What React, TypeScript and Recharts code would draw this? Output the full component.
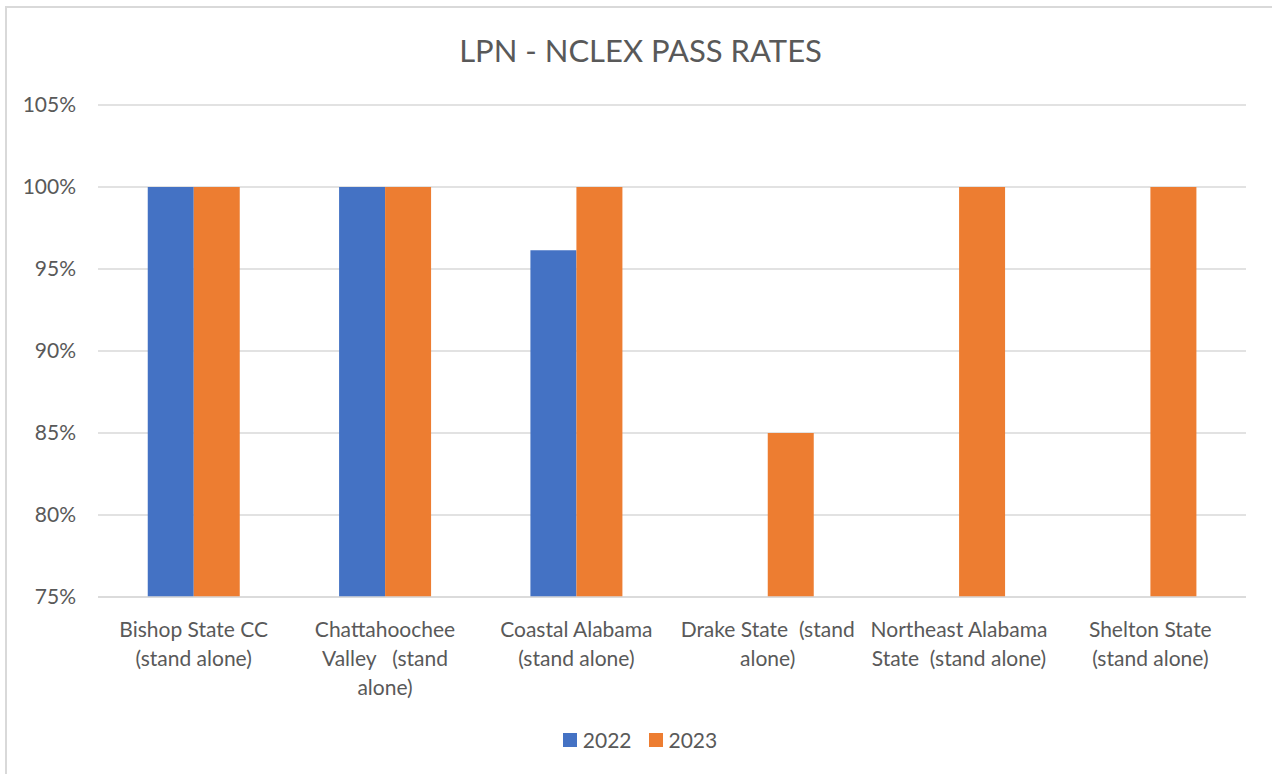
import React from "react";
import { BarChart, Bar, XAxis, YAxis, CartesianGrid, Legend } from "recharts";

// Programs shown along the category axis
const programs = [
  "Bishop State CC (stand alone)",
  "Chattahoochee Valley (stand alone)",
  "Coastal Alabama (stand alone)",
  "Drake State (stand alone)",
  "Northeast Alabama State (stand alone)",
  "Shelton State (stand alone)",
];

// Wrapped tick label lines for each program
const programLabelLines = [
  ["Bishop State CC", "(stand alone)"],
  ["Chattahoochee", "Valley   (stand", "alone)"],
  ["Coastal Alabama", "(stand alone)"],
  ["Drake State  (stand", "alone)"],
  ["Northeast Alabama", "State  (stand alone)"],
  ["Shelton State", "(stand alone)"],
];

// Pass rates (%) by year; null where no 2022 figure was reported
const passRate2022: (number | null)[] = [100, 100, 96.15, null, null, null];
const passRate2023: (number | null)[] = [100, 100, 100, 85, 100, 100];

const yTicks = [75, 80, 85, 90, 95, 100, 105];

const seriesNames = ["2022", "2023"];
const seriesColors = ["#4472C4", "#ED7D31"];

const data = programs.map((name, i) => ({
  name,
  y2022: passRate2022[i],
  y2023: passRate2023[i],
}));

const FONT = "Lato, 'Open Sans', sans-serif";
const TEXT = "#595959";
const GRID = "#D9D9D9";
const LABEL_SIZE = 21;

const ProgramTick = (props: any) => {
  const { x, y, payload } = props;
  const lines = programLabelLines[payload.index] || [String(payload.value)];
  return (
    <text
      x={x}
      y={y}
      textAnchor="middle"
      fill={TEXT}
      fontSize={LABEL_SIZE}
      fontFamily={FONT}
      style={{ whiteSpace: "pre" }}
    >
      {lines.map((line, i) => (
        <tspan key={i} x={x} y={y + 40 + i * 29}>
          {line}
        </tspan>
      ))}
    </text>
  );
};

const LegendContent = () => (
  <div
    style={{
      display: "flex",
      justifyContent: "center",
      alignItems: "center",
      fontFamily: FONT,
      fontSize: LABEL_SIZE,
      color: TEXT,
      paddingLeft: 8,
    }}
  >
    {seriesNames.map((n, i) => (
      <div
        key={n}
        style={{ display: "flex", alignItems: "center", marginRight: i === 0 ? 17 : 0 }}
      >
        <span
          style={{
            display: "inline-block",
            width: 14,
            height: 14,
            background: seriesColors[i],
            marginRight: 6,
          }}
        />
        <span>{n}</span>
      </div>
    ))}
  </div>
);

export default function App() {
  return (
    <div
      style={{
        position: "absolute",
        left: 0,
        top: 0,
        width: 1272,
        height: 774,
        overflow: "hidden",
        background: "#fff",
      }}
    >
      <div
        style={{
          position: "absolute",
          left: 5,
          top: 6,
          width: 1320,
          height: 820,
          border: `2px solid ${GRID}`,
          boxSizing: "border-box",
        }}
      />
      <div
        style={{
          position: "absolute",
          left: 0,
          top: 32,
          width: 1281,
          textAlign: "center",
          fontFamily: FONT,
          fontSize: 31,
          color: TEXT,
          lineHeight: "37px",
        }}
      >
        LPN - NCLEX PASS RATES
      </div>
      <div style={{ position: "absolute", left: 0, top: 0 }}>
        <BarChart
          width={1272}
          height={774}
          data={data}
          margin={{ top: 105, right: 26, bottom: 57, left: 0 }}
          barCategoryGap="26%"
          barGap={0}
        >
          <CartesianGrid vertical={false} stroke={GRID} strokeWidth={1.5} />
          <XAxis
            dataKey="name"
            height={120}
            tickLine={false}
            tickSize={0}
            tickMargin={0}
            axisLine={{ stroke: GRID, strokeWidth: 1.5 }}
            tick={<ProgramTick />}
            interval={0}
          />
          <YAxis
            width={98}
            domain={[75, 105]}
            ticks={yTicks}
            allowDataOverflow
            axisLine={false}
            tickLine={false}
            tickSize={0}
            tickMargin={22}
            tickFormatter={(v: number) => `${v}%`}
            tick={{ fill: TEXT, fontSize: LABEL_SIZE, fontFamily: FONT }}
          />
          <Legend
            verticalAlign="middle"
            align="center"
            wrapperStyle={{ top: 727, left: 0, width: 1272 }}
            content={<LegendContent />}
          />
          <Bar dataKey="y2022" name={seriesNames[0]} fill={seriesColors[0]} isAnimationActive={false} />
          <Bar dataKey="y2023" name={seriesNames[1]} fill={seriesColors[1]} isAnimationActive={false} />
        </BarChart>
      </div>
    </div>
  );
}
